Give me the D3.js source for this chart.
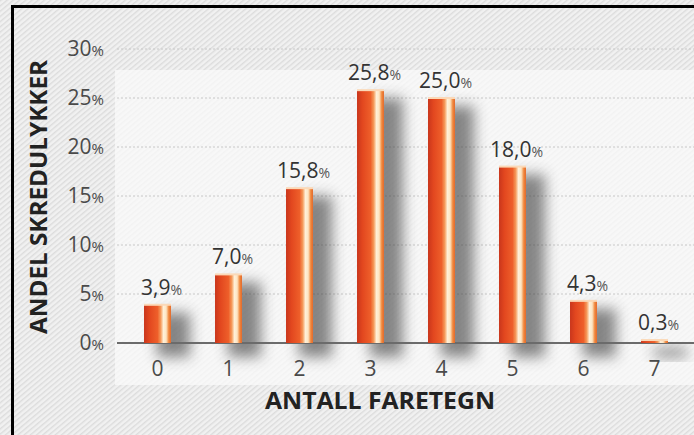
<!DOCTYPE html>
<html>
<head>
<meta charset="utf-8">
<script src="https://d3js.org/d3.v7.min.js"></script>
<style>
  body { margin: 0; background: #fff; }
  svg { display: block; font-family: "Open Sans", "Noto Sans", sans-serif; }
</style>
</head>
<body>
<svg id="chart"></svg>
<script>
// data
const categories = ["0", "1", "2", "3", "4", "5", "6", "7"];
const shares = [3.9, 7.0, 15.8, 25.8, 25.0, 18.0, 4.3, 0.3];
const yTicks = [0, 5, 10, 15, 20, 25, 30];

const width = 694, height = 435;
const svg = d3.select("#chart").attr("width", width).attr("height", height);
const defs = svg.append("defs");

// hatched paper background
const pat = defs.append("pattern")
  .attr("id", "hatch").attr("width", 4).attr("height", 4)
  .attr("patternUnits", "userSpaceOnUse")
  .attr("patternTransform", "rotate(-40)");
pat.append("rect").attr("width", 4).attr("height", 4).attr("fill", "#f1f1f1");
pat.append("rect").attr("width", 4).attr("height", 1.4).attr("fill", "#dcdcdc");

const barGrad = defs.append("linearGradient").attr("id", "bar")
  .attr("x1", 0).attr("x2", 1).attr("y1", 0).attr("y2", 0);
[[0, "#c9361c"], [0.2, "#e2471f"], [0.5, "#ee5f2a"], [0.62, "#f59a5a"],
 [0.72, "#fff0d8"], [0.82, "#fde6c4"], [0.92, "#f0863a"], [1, "#e26a2e"]]
  .forEach(([o, c]) => barGrad.append("stop").attr("offset", o).attr("stop-color", c));

defs.append("filter").attr("id", "blur")
  .attr("x", "-100%").attr("y", "-50%").attr("width", "300%").attr("height", "200%")
  .append("feGaussianBlur").attr("stdDeviation", 7);

svg.append("rect").attr("width", width).attr("height", height).attr("fill", "url(#hatch)");
svg.append("rect").attr("x", 115).attr("y", 70).attr("width", width - 115).attr("height", 315)
  .attr("fill", "#fafafa").attr("opacity", 0.75);

// frame lines
svg.append("line").attr("x1", 11).attr("x2", width).attr("y1", 6.5).attr("y2", 6.5)
  .attr("stroke", "#000").attr("stroke-width", 3);
svg.append("line").attr("x1", 12.5).attr("x2", 12.5).attr("y1", 5).attr("y2", height)
  .attr("stroke", "#000").attr("stroke-width", 3);

// scales
const x = d3.scaleBand().domain(categories).range([122, 690]).paddingInner(0.62).paddingOuter(0.31);
const y = d3.scaleLinear().domain([0, 30]).range([343, 49]);

// grid
svg.append("g").selectAll("line").data(yTicks.slice(1)).join("line")
  .attr("x1", 117).attr("x2", width)
  .attr("y1", d => y(d)).attr("y2", d => y(d))
  .attr("stroke", "#c8c8c8").attr("stroke-width", 1).attr("stroke-dasharray", "2,2");

// y tick labels
const yl = svg.append("g").selectAll("text").data(yTicks).join("text")
  .attr("x", 104).attr("y", d => y(d) + 7)
  .attr("text-anchor", "end").attr("fill", "#4a4a4a").attr("font-size", 21);
yl.append("tspan").text(d => d);
yl.append("tspan").attr("font-size", 15).text("%");

// shadows
svg.append("g").selectAll("rect").data(shares).join("rect")
  .attr("x", (d, i) => x(categories[i]) + 13)
  .attr("y", d => y(d) + 8)
  .attr("width", x.bandwidth() + 6)
  .attr("height", d => y(0) - y(d) + 6)
  .attr("fill", "#3a3a3a").attr("opacity", 0.6)
  .attr("filter", "url(#blur)");

// baseline
svg.append("line").attr("x1", 117).attr("x2", width).attr("y1", y(0)).attr("y2", y(0))
  .attr("stroke", "#6b6b6b").attr("stroke-width", 2);

// bars
svg.append("g").selectAll("rect").data(shares).join("rect")
  .attr("x", (d, i) => x(categories[i]))
  .attr("y", d => y(d))
  .attr("width", x.bandwidth())
  .attr("height", d => y(0) - y(d))
  .attr("fill", "url(#bar)");
svg.append("g").selectAll("rect").data(shares).join("rect")
  .attr("x", (d, i) => x(categories[i]))
  .attr("y", d => y(d) - 1)
  .attr("width", x.bandwidth())
  .attr("height", d => Math.min(2, y(0) - y(d) + 1))
  .attr("fill", "#fbd9b8");

// value labels
const vl = svg.append("g").selectAll("text").data(shares).join("text")
  .attr("x", (d, i) => x(categories[i]) + x.bandwidth() / 2 + 4)
  .attr("y", d => y(d) - 10)
  .attr("text-anchor", "middle").attr("fill", "#333").attr("font-size", 21);
vl.append("tspan").text(d => d.toFixed(1).replace(".", ","));
vl.append("tspan").attr("font-size", 14).attr("fill", "#555").text("%");

// x tick labels
svg.append("g").selectAll("text").data(categories).join("text")
  .attr("x", d => x(d) + x.bandwidth() / 2)
  .attr("y", 376)
  .attr("text-anchor", "middle").attr("fill", "#4a4a4a").attr("font-size", 21)
  .text(d => d);

// axis titles
svg.append("text").attr("x", 380).attr("y", 409)
  .attr("text-anchor", "middle").attr("font-weight", "bold").attr("font-size", 24)
  .attr("fill", "#222").attr("textLength", 230).attr("lengthAdjust", "spacingAndGlyphs")
  .text("ANTALL FARETEGN");
svg.append("text")
  .attr("transform", "translate(47,197) rotate(-90)")
  .attr("text-anchor", "middle").attr("font-weight", "bold").attr("font-size", 24)
  .attr("fill", "#222").attr("textLength", 274).attr("lengthAdjust", "spacingAndGlyphs")
  .text("ANDEL SKREDULYKKER");
</script>
</body>
</html>
